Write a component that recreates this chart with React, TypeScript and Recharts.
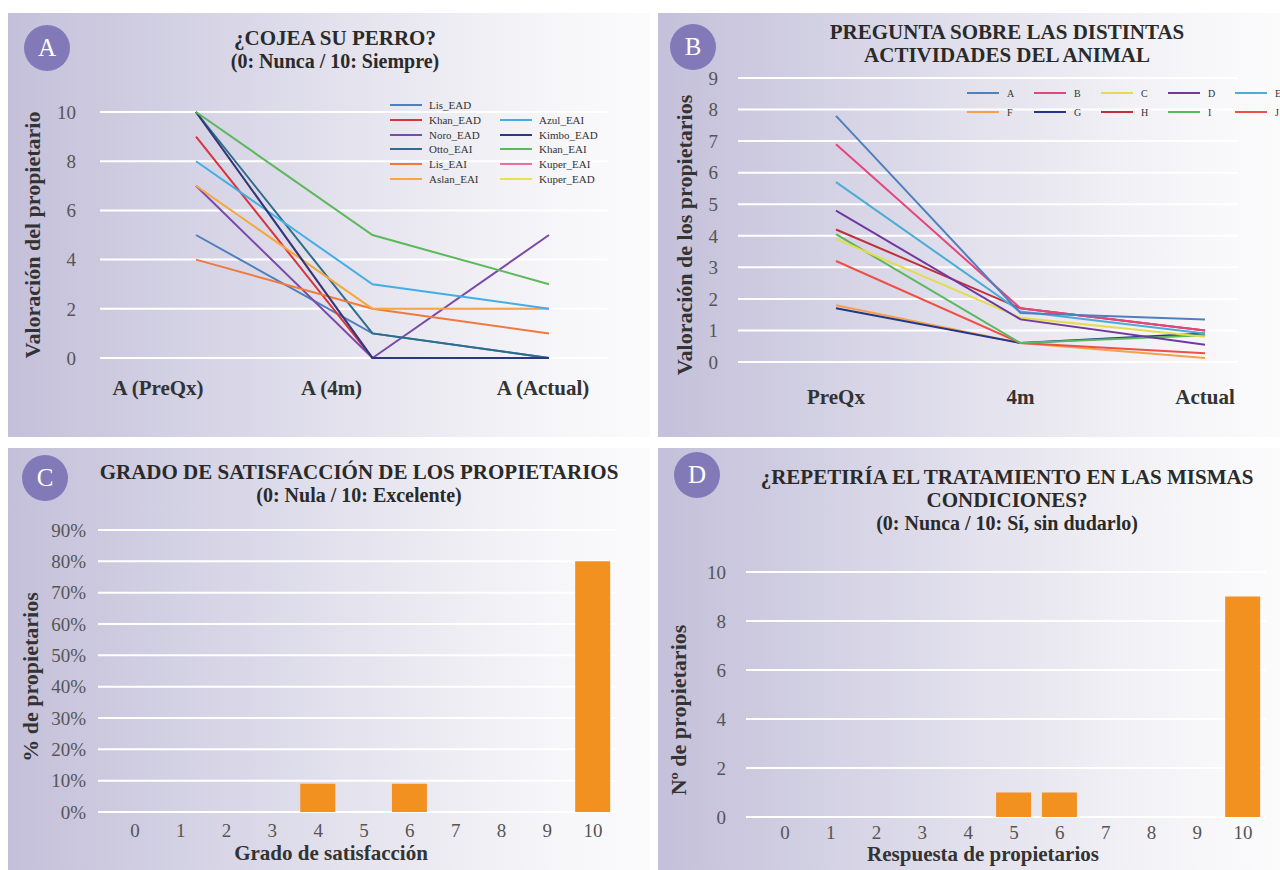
import React from "react";
import { Bar, BarChart, CartesianGrid, Legend, Line, LineChart, XAxis, YAxis } from "recharts";

// Panel A: ¿Cojea su perro?
const stagesA = ["A (PreQx)", "A (4m)", "A (Actual)"];
const namesA = ["Lis_EAD", "Khan_EAD", "Noro_EAD", "Otto_EAI", "Lis_EAI", "Aslan_EAI", "Azul_EAI", "Kimbo_EAD", "Khan_EAI", "Kuper_EAI", "Kuper_EAD"];
const lisEad = [5, 1, 0];
const khanEad = [9, 0, 0];
const noroEad = [7, 0, 5];
const ottoEai = [10, 1, 0];
const lisEai = [4, 2, 1];
const aslanEai = [7, 2, 2];
const azulEai = [8, 3, 2];
const kimboEad = [10, 0, 0];
const khanEai = [10, 5, 3];
const kuperEai = [10, 0, 0];
const kuperEad = [7, 2, 2];
const valuesA = [lisEad, khanEad, noroEad, ottoEai, lisEai, aslanEai, azulEai, kimboEad, khanEai, kuperEai, kuperEad];

// Panel B: actividades del animal
const stagesB = ["PreQx", "4m", "Actual"];
const namesB = ["A", "B", "C", "D", "E", "F", "G", "H", "I", "J"];
const actA = [7.8, 1.55, 1.35];
const actB = [6.9, 1.7, 1.0];
const actC = [3.9, 1.4, 0.8];
const actD = [4.8, 1.35, 0.55];
const actE = [5.7, 1.6, 0.9];
const actF = [1.8, 0.6, 0.13];
const actG = [1.7, 0.6, 0.9];
const actH = [4.2, 1.7, 1.0];
const actI = [4.05, 0.6, 0.85];
const actJ = [3.2, 0.6, 0.28];
const valuesB = [actA, actB, actC, actD, actE, actF, actG, actH, actI, actJ];

// Panel C: grado de satisfacción (% de propietarios)
const scoresC = ["0", "1", "2", "3", "4", "5", "6", "7", "8", "9", "10"];
const pctC = [0, 0, 0, 0, 9, 0, 9, 0, 0, 0, 80];

// Panel D: ¿repetiría el tratamiento? (nº de propietarios)
const scoresD = ["0", "1", "2", "3", "4", "5", "6", "7", "8", "9", "10"];
const ownersD = [0, 0, 0, 0, 0, 1, 1, 0, 0, 0, 9];

const colorsA = ["#4f7fbd", "#d8343c", "#7a4aa8", "#2e6c8c", "#ef7a3a", "#f5a54a", "#43aee6", "#2b3a7c", "#5cb85c", "#e8729c", "#e8e050"];
const drawOrderA = [9, 10, 0, 1, 2, 3, 4, 5, 6, 7, 8];
const colorsB = ["#4f7fbd", "#e6457c", "#e4dc4a", "#71389e", "#4bacd8", "#f5a04a", "#22368a", "#c0303a", "#5cb85c", "#ee5048"];
const drawOrderB = [5, 6, 9, 8, 2, 7, 3, 4, 1, 0];
const barColor = "#f29020";

const serif = '"Liberation Serif", "DejaVu Serif", serif';

const rowsA = stagesA.map((stage, i) => {
  const row: Record<string, string | number> = { stage };
  namesA.forEach((n, k) => (row[n] = valuesA[k][i]));
  return row;
});
const rowsB = stagesB.map((stage, i) => {
  const row: Record<string, string | number> = { stage };
  namesB.forEach((n, k) => (row[n] = valuesB[k][i]));
  return row;
});
const rowsC = scoresC.map((score, i) => ({ score, pct: pctC[i] }));
const rowsD = scoresD.map((score, i) => ({ score, owners: ownersD[i] }));

const panelBg = "linear-gradient(to right, #c4c0da 0%, #d5d3e5 30%, #e8e7f0 60%, #f6f6f9 85%, #fbfbfc 100%)";

function Badge({ x, y, letter }: { x: number; y: number; letter: string }) {
  return (
    <div
      style={{
        position: "absolute",
        left: x - 23,
        top: y - 23,
        width: 46,
        height: 46,
        borderRadius: "50%",
        background: "#8279b9",
        color: "#fff",
        fontFamily: serif,
        fontSize: 25,
        lineHeight: "46px",
        textAlign: "center",
      }}
    >
      {letter}
    </div>
  );
}

function Title({ x, y, lines }: { x: number; y: number; lines: string[] }) {
  return (
    <div
      style={{
        position: "absolute",
        left: x,
        top: y,
        transform: "translateX(-50%)",
        textAlign: "center",
        whiteSpace: "nowrap",
        fontFamily: serif,
        fontWeight: "bold",
        fontSize: 21,
        lineHeight: "23px",
        color: "#2a2a2a",
      }}
    >
      {lines.map((l, i) => (
        <div key={l} style={i > 0 && l.startsWith("(") ? { fontSize: 20 } : undefined}>
          {l}
        </div>
      ))}
    </div>
  );
}

function SideLabel({ x, y, text }: { x: number; y: number; text: string }) {
  return (
    <div
      style={{
        position: "absolute",
        left: x,
        top: y,
        transform: "translate(-50%, -50%) rotate(-90deg)",
        whiteSpace: "nowrap",
        fontFamily: serif,
        fontWeight: "bold",
        fontSize: 22,
        color: "#333",
      }}
    >
      {text}
    </div>
  );
}

function BottomLabel({ x, y, text }: { x: number; y: number; text: string }) {
  return (
    <div
      style={{
        position: "absolute",
        left: x,
        top: y,
        transform: "translate(-50%, -50%)",
        whiteSpace: "nowrap",
        fontFamily: serif,
        fontWeight: "bold",
        fontSize: 21,
        lineHeight: "24px",
        color: "#333",
      }}
    >
      {text}
    </div>
  );
}

const tickShiftA = [-38, -41, -6];

function StageTickA(props: any) {
  const { x, y, payload, index } = props;
  return (
    <text x={x + (tickShiftA[index] ?? 0)} y={y} dy="0.71em" textAnchor="middle" fontFamily={serif} fontWeight="bold" fontSize={21} fill="#333">
      {payload.value}
    </text>
  );
}

function LegendA(props: any) {
  const payload = [...(props.payload || [])].sort((a: any, b: any) => namesA.indexOf(a.value) - namesA.indexOf(b.value));
  return (
    <div style={{ position: "relative", width: 250, height: 100, fontFamily: serif, fontSize: 11, color: "#333" }}>
      {payload.map((p: any, i: number) => {
        const col = i < 6 ? 0 : 1;
        const row = i < 6 ? i : i - 5;
        return (
          <div key={p.value} style={{ position: "absolute", left: col * 110, top: row * 14.8, display: "flex", alignItems: "center", height: 14 }}>
            <span style={{ display: "inline-block", width: 32, height: 2, background: p.color, marginRight: 7 }} />
            <span>{p.value}</span>
          </div>
        );
      })}
    </div>
  );
}

function LegendB(props: any) {
  const payload = [...(props.payload || [])].sort((a: any, b: any) => namesB.indexOf(a.value) - namesB.indexOf(b.value));
  return (
    <div style={{ position: "relative", width: 340, height: 40, fontFamily: serif, fontSize: 10, color: "#333" }}>
      {payload.map((p: any, i: number) => {
        const col = i % 5;
        const row = Math.floor(i / 5);
        return (
          <div key={p.value} style={{ position: "absolute", left: col * 67, top: row * 19, display: "flex", alignItems: "center", height: 14 }}>
            <span style={{ display: "inline-block", width: 32, height: 2, background: p.color, marginRight: 8 }} />
            <span>{p.value}</span>
          </div>
        );
      })}
    </div>
  );
}

const yTick = { fontFamily: serif, fontSize: 19, fill: "#555" };
const xNumTick = { fontFamily: serif, fontSize: 19, fill: "#555" };

function PanelA() {
  return (
    <div style={{ position: "absolute", left: 8, top: 13, width: 642, height: 424, background: panelBg }}>
      <LineChart width={642} height={424} data={rowsA} margin={{ top: 99, right: 42, bottom: 39, left: 0 }}>
        <CartesianGrid vertical={false} stroke="#ffffff" strokeWidth={2} />
        <XAxis dataKey="stage" axisLine={false} tickLine={false} tickSize={0} tickMargin={22} height={40} padding={{ left: 96, right: 59 }} tick={<StageTickA />} interval={0} />
        <YAxis width={92} domain={[0, 10]} ticks={[0, 2, 4, 6, 8, 10]} axisLine={false} tickLine={false} tickSize={0} tickMargin={24} tick={yTick} />
        <Legend
          layout="horizontal"
          verticalAlign="middle"
          align="center"
          content={<LegendA />}
          wrapperStyle={{ left: 382, top: 85, width: 250 }}
        />
        {drawOrderA.map((k) => (
          <Line key={namesA[k]} dataKey={namesA[k]} name={namesA[k]} stroke={colorsA[k]} strokeWidth={2} dot={false} isAnimationActive={false} />
        ))}
      </LineChart>
      <Badge x={39} y={35} letter="A" />
      <Title x={327} y={14} lines={["¿COJEA SU PERRO?", "(0: Nunca / 10: Siempre)"]} />
      <SideLabel x={25} y={222} text="Valoración del propietario" />
    </div>
  );
}

function PanelB() {
  return (
    <div style={{ position: "absolute", left: 658, top: 13, width: 622, height: 424, background: panelBg }}>
      <LineChart width={622} height={424} data={rowsB} margin={{ top: 65, right: 42, bottom: 15, left: 0 }}>
        <CartesianGrid vertical={false} stroke="#ffffff" strokeWidth={2} />
        <XAxis
          dataKey="stage"
          axisLine={false}
          tickLine={false}
          tickSize={0}
          tickMargin={27}
          height={60}
          padding={{ left: 98, right: 33 }}
          interval={0}
          tick={{ fontFamily: serif, fontWeight: "bold", fontSize: 21, fill: "#333" }}
        />
        <YAxis width={80} domain={[0, 9]} ticks={[0, 1, 2, 3, 4, 5, 6, 7, 8, 9]} axisLine={false} tickLine={false} tickSize={0} tickMargin={20} tick={yTick} />
        <Legend
          layout="horizontal"
          verticalAlign="middle"
          align="center"
          content={<LegendB />}
          wrapperStyle={{ left: 309, top: 73, width: 340 }}
        />
        {drawOrderB.map((k) => (
          <Line key={namesB[k]} dataKey={namesB[k]} name={namesB[k]} stroke={colorsB[k]} strokeWidth={2} dot={false} isAnimationActive={false} />
        ))}
      </LineChart>
      <Badge x={35} y={34} letter="B" />
      <Title x={349} y={8} lines={["PREGUNTA SOBRE LAS DISTINTAS", "ACTIVIDADES DEL ANIMAL"]} />
      <SideLabel x={27} y={222} text="Valoración de los propietarios" />
    </div>
  );
}

function PanelC() {
  return (
    <div style={{ position: "absolute", left: 8, top: 448, width: 642, height: 422, background: panelBg }}>
      <BarChart width={642} height={422} data={rowsC} margin={{ top: 82, right: 34, bottom: 28, left: 0 }}>
        <CartesianGrid vertical={false} stroke="#ffffff" strokeWidth={2} />
        <XAxis dataKey="score" axisLine={false} tickLine={false} tickSize={0} tickMargin={12} height={30} padding={{ left: 14, right: 0 }} interval={0} tick={xNumTick} />
        <YAxis
          width={90}
          domain={[0, 90]}
          ticks={[0, 10, 20, 30, 40, 50, 60, 70, 80, 90]}
          tickFormatter={(v: number) => `${v}%`}
          axisLine={false}
          tickLine={false}
          tickSize={0}
          tickMargin={12}
          tick={yTick}
        />
        <Bar dataKey="pct" fill={barColor} barSize={35} isAnimationActive={false} />
      </BarChart>
      <Badge x={37} y={30} letter="C" />
      <Title x={351} y={13} lines={["GRADO DE SATISFACCIÓN DE LOS PROPIETARIOS", "(0: Nula / 10: Excelente)"]} />
      <SideLabel x={23} y={229} text="% de propietarios" />
      <BottomLabel x={323} y={405} text="Grado de satisfacción" />
    </div>
  );
}

function PanelD() {
  return (
    <div style={{ position: "absolute", left: 658, top: 448, width: 622, height: 422, background: panelBg }}>
      <BarChart width={622} height={422} data={rowsD} margin={{ top: 124, right: 14, bottom: 23, left: 0 }}>
        <CartesianGrid vertical={false} stroke="#ffffff" strokeWidth={2} />
        <XAxis dataKey="score" axisLine={false} tickLine={false} tickSize={0} tickMargin={9} height={30} padding={{ left: 16, right: 0 }} interval={0} tick={xNumTick} />
        <YAxis width={88} domain={[0, 10]} ticks={[0, 2, 4, 6, 8, 10]} axisLine={false} tickLine={false} tickSize={0} tickMargin={20} tick={yTick} />
        <Bar dataKey="owners" fill={barColor} barSize={35} isAnimationActive={false} />
      </BarChart>
      <Badge x={39} y={27} letter="D" />
      <Title x={349} y={18} lines={["¿REPETIRÍA EL TRATAMIENTO EN LAS MISMAS", "CONDICIONES?", "(0: Nunca / 10: Sí, sin dudarlo)"]} />
      <SideLabel x={21} y={262} text="Nº de propietarios" />
      <BottomLabel x={325} y={406} text="Respuesta de propietarios" />
    </div>
  );
}

export default function App() {
  return (
    <div style={{ position: "absolute", left: 0, top: 0, width: 1280, height: 870, background: "#ffffff", overflow: "hidden" }}>
      <PanelA />
      <PanelB />
      <PanelC />
      <PanelD />
    </div>
  );
}
